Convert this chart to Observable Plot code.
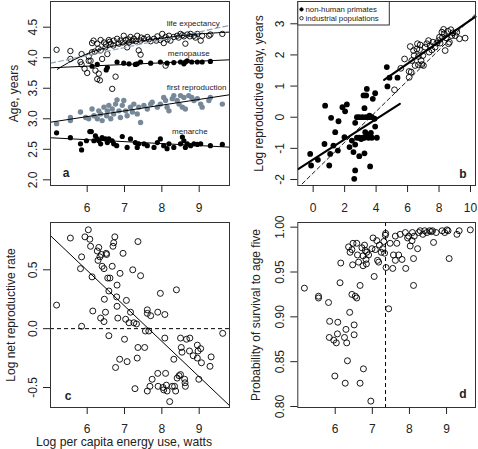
<!DOCTYPE html>
<html><head><meta charset="utf-8">
<script src="https://cdn.jsdelivr.net/npm/d3@7"></script>
<script src="https://cdn.jsdelivr.net/npm/@observablehq/plot@0.6"></script>
<style>
body{margin:0;background:#fff;}
#wrap{position:relative;width:478px;height:449px;overflow:hidden;}
</style></head><body><div id="wrap"></div>
<script>
// ---------- Panel a data: [log energy use, log age] ----------
const aLifeExp = [[5.18,4.13],[5.55,4.11],[5.55,3.98],[5.85,4.06],[5.82,3.93],[5.85,3.89],[5.93,3.82],[6.0,3.75],[6.04,3.95],[6.09,3.95],[6.13,4.24],[6.13,4.09],[6.22,3.79],[6.27,3.65],[6.31,3.74],[6.36,4.12],[6.34,3.63],[6.40,3.98],[6.36,4.29],[6.45,4.25],[6.49,4.17],[6.54,4.06],[6.58,4.29],[6.63,4.23],[6.71,4.28],[6.76,3.69],[6.67,3.49],[6.80,4.31],[6.85,4.23],[6.89,4.28],[6.98,4.36],[7.03,4.29],[7.07,4.17],[7.12,4.25],[7.16,4.34],[7.21,4.28],[7.25,4.31],[7.34,4.36],[7.38,4.12],[7.43,4.05],[7.43,4.28],[7.52,4.31],[7.61,4.34],[7.70,4.27],[7.79,4.31],[7.88,4.35],[7.96,4.29],[8.01,4.39],[8.05,4.24],[8.10,4.34],[8.19,4.36],[8.23,4.28],[8.32,4.34],[8.41,4.36],[8.50,4.39],[8.59,4.35],[8.63,4.23],[8.68,4.38],[8.77,4.39],[8.86,4.36],[8.95,4.39],[9.04,4.28],[9.08,4.36],[9.26,4.36],[9.30,4.38],[9.62,4.39],[6.27,4.23],[6.04,4.02],[8.10,3.87],[6.5,4.22],[6.6,4.26],[6.7,4.2],[6.95,4.25],[7.1,4.3],[7.3,4.27],[7.45,4.33],[7.65,4.3],[7.85,4.28],[8.15,4.3],[8.45,4.33],[8.55,4.37],[8.75,4.35],[8.9,4.33],[6.3,4.15],[6.2,4.1],[6.17,4.28]];
const aMenopause = [[6.13,3.86],[6.27,3.89],[6.54,3.84],[6.51,3.80],[6.80,3.93],[6.98,3.91],[7.12,3.90],[7.29,3.89],[7.34,3.90],[7.43,3.93],[7.70,3.91],[7.96,3.93],[8.14,3.91],[8.32,3.92],[8.50,3.93],[8.59,3.90],[8.63,3.93],[8.68,3.95],[8.80,3.93],[8.95,3.93],[9.08,3.93],[9.30,3.94]];
const aFirstRepro = [[5.18,2.92],[5.55,3.02],[5.55,2.97],[5.82,3.11],[5.96,3.02],[6.04,3.0],[6.13,3.16],[6.18,3.05],[6.27,3.0],[6.31,3.13],[6.36,3.08],[6.40,2.97],[6.45,3.19],[6.52,3.05],[6.54,3.13],[6.58,3.22],[6.63,3.0],[6.67,3.16],[6.71,3.08],[6.76,3.24],[6.80,3.31],[6.85,3.13],[6.89,3.02],[6.94,3.22],[6.98,3.30],[7.03,3.13],[7.07,3.05],[7.16,3.19],[7.21,3.11],[7.25,3.24],[7.34,3.08],[7.38,3.19],[7.43,2.94],[7.52,3.22],[7.61,3.16],[7.70,3.24],[7.74,3.27],[7.88,3.19],[7.96,3.24],[8.05,3.35],[8.10,3.30],[8.14,3.19],[8.19,3.13],[8.28,3.33],[8.32,3.38],[8.41,3.30],[8.46,3.24],[8.50,3.38],[8.55,3.19],[8.59,3.35],[8.63,3.16],[8.72,3.38],[8.80,3.35],[8.86,3.30],[8.95,3.33],[9.04,3.24],[9.08,3.19],[9.26,3.30],[9.30,3.35],[9.62,3.24]];
const aMenarche = [[5.18,2.77],[5.55,2.69],[5.85,2.49],[5.82,2.59],[5.98,2.64],[6.07,2.79],[6.11,2.79],[6.18,2.64],[6.22,2.72],[6.27,2.67],[6.31,2.64],[6.36,2.59],[6.40,2.69],[6.49,2.67],[6.54,2.61],[6.58,2.67],[6.67,2.64],[6.71,2.59],[6.79,2.56],[6.94,2.71],[7.07,2.53],[7.16,2.67],[7.29,2.61],[7.34,2.53],[7.38,2.59],[7.52,2.59],[7.61,2.56],[7.79,2.53],[7.88,2.61],[7.96,2.67],[8.05,2.56],[8.14,2.51],[8.19,2.59],[8.32,2.53],[8.50,2.59],[8.55,2.70],[8.59,2.64],[8.63,2.53],[8.68,2.59],[8.77,2.56],[8.86,2.59],[8.95,2.58],[9.04,2.59],[9.30,2.56],[9.62,2.58]];
// fitted lines
const aFitLifeExp = [[5.2,3.81],[5.5,3.92],[5.8,4.01],[6.1,4.09],[6.5,4.16],[7.0,4.23],[7.5,4.28],[8.0,4.32],[8.5,4.36],[9.0,4.39],[9.81,4.42]];
const aFitLifeExpDashed = [[5.02,3.911],[9.81,4.528]];
const aFitMenopause = [[5.02,3.835],[9.81,3.966]];
const aFitFirstRepro = [[5.02,2.944],[9.81,3.393]];
const aFitMenarche = [[5.02,2.689],[9.81,2.535]];
const aLabels = [{t:"life expectancy",x:8.84,y:4.56},{t:"menopause",x:8.72,y:4.07},{t:"first reproduction",x:8.93,y:3.51},{t:"menarche",x:8.75,y:2.80}];

// ---------- Panel b data ----------
const bPrimates = [[-0.19,-1.18],[-0.13,-1.55],[0.30,-1.37],[0.76,0.37],[0.72,-0.86],[1.02,-1.55],[1.08,-1.18],[1.14,-0.02],[1.29,-0.91],[1.40,-0.48],[1.57,-1.07],[1.61,-0.13],[1.86,0.32],[1.99,-0.64],[2.03,0.19],[2.14,0.41],[2.31,-0.96],[2.46,-0.75],[2.56,-1.12],[2.61,-1.98],[2.67,-1.71],[2.67,-0.88],[2.67,-0.18],[2.78,0.0],[2.78,-0.66],[2.93,0.0],[2.93,-1.25],[3.05,-0.70],[3.14,0.0],[3.20,0.70],[3.26,-0.66],[3.26,0.29],[3.26,-1.16],[3.31,-0.48],[3.35,0.0],[3.37,0.70],[3.41,0.91],[3.45,-0.56],[3.52,0.0],[3.52,-0.66],[3.58,0.05],[3.62,-1.58],[3.67,-0.50],[3.73,-0.66],[3.73,0.0],[3.79,0.59],[3.90,-0.05],[3.94,0.77],[3.94,-0.30],[4.05,-0.66],[2.93,-0.66],[3.16,-0.66],[4.68,1.61],[4.72,0.99],[4.85,1.27],[5.36,1.27]];
const bIndustrial = [[5.17,0.88],[5.57,1.57],[5.81,1.87],[6.10,1.47],[6.10,1.28],[6.17,2.27],[6.23,1.45],[6.27,1.82],[6.38,2.14],[6.42,1.98],[6.48,1.66],[6.59,2.19],[6.63,2.36],[6.69,1.95],[6.69,1.68],[6.76,2.17],[6.80,2.32],[6.86,1.82],[6.91,1.69],[6.97,1.98],[7.01,1.66],[7.12,2.25],[7.22,2.36],[7.33,2.46],[7.37,2.09],[7.44,2.30],[7.54,2.16],[7.61,2.41],[7.75,2.25],[7.97,2.46],[8.07,2.38],[8.18,2.73],[8.22,2.57],[8.29,2.82],[8.33,2.68],[8.39,2.14],[8.45,2.55],[8.56,2.76],[8.60,2.36],[8.66,2.41],[8.75,2.81],[8.81,2.62],[8.88,2.71],[9.03,2.62],[9.13,2.73],[9.30,2.52],[9.66,2.54],[8.03,2.57],[7.86,2.38]];
const bFitAll = [[-0.70,-2.14],[10.32,3.31]];
const bFitPrimates = [[-0.93,-1.66],[5.51,0.43]];
const bFitIndustrial = [[4.51,1.20],[10.32,3.23]];
const bLegend = ["non-human primates","industrial populations"];

// ---------- Panel c data ----------
const cPoints = [[5.18,0.20],[5.55,0.77],[5.82,0.51],[5.85,0.61],[5.85,0.02],[5.94,0.78],[6.03,0.84],[6.07,0.76],[6.09,0.70],[6.13,0.44],[6.15,0.15],[6.27,0.66],[6.31,0.69],[6.29,0.58],[6.34,0.61],[6.38,0.63],[6.36,0.09],[6.40,0.53],[6.45,0.51],[6.45,0.06],[6.46,0.25],[6.49,0.14],[6.51,0.64],[6.52,0.63],[6.55,0.43],[6.58,-0.06],[6.58,0.32],[6.61,0.43],[6.67,0.53],[6.69,0.70],[6.71,0.73],[6.74,0.78],[6.76,-0.33],[6.79,0.27],[6.80,0.37],[6.80,0.19],[6.82,0.09],[6.87,-0.26],[6.88,0.47],[6.96,0.64],[7.0,-0.09],[7.03,0.08],[7.05,0.24],[7.07,-0.28],[7.12,0.05],[7.16,0.14],[7.22,0.50],[7.25,0.05],[7.28,-0.51],[7.32,0.04],[7.34,-0.25],[7.36,-0.16],[7.36,0.74],[7.43,0.45],[7.54,-0.16],[7.56,-0.02],[7.61,-0.53],[7.61,0.16],[7.61,0.13],[7.65,-0.02],[7.68,-0.49],[7.70,0.11],[7.74,-0.43],[7.89,0.14],[7.89,-0.38],[7.90,-0.49],[7.96,0.30],[8.03,-0.50],[8.05,-0.52],[8.08,0.12],[8.08,-0.08],[8.10,-0.38],[8.12,-0.48],[8.14,-0.53],[8.21,-0.62],[8.28,-0.49],[8.32,-0.26],[8.34,-0.49],[8.37,-0.53],[8.39,0.33],[8.41,-0.42],[8.46,-0.40],[8.50,-0.08],[8.50,-0.39],[8.52,-0.16],[8.54,-0.20],[8.61,-0.43],[8.62,-0.46],[8.63,-0.49],[8.66,-0.09],[8.74,-0.19],[8.75,-0.08],[8.84,-0.23],[8.95,-0.14],[8.95,-0.25],[8.97,-0.19],[8.99,-0.43],[9.04,-0.17],[9.06,-0.29],[9.29,-0.32],[9.32,-0.24],[9.63,-0.04]];
const cFit = [[5.02,0.789],[9.80,-0.65]];
const cZero = [0];

// ---------- Panel d data ----------
const dPoints = [[5.17,0.932],[5.55,0.923],[5.55,0.921],[5.82,0.916],[5.85,0.895],[5.84,0.877],[5.96,0.874],[5.99,0.834],[6.03,0.871],[6.07,0.894],[6.06,0.881],[6.13,0.938],[6.15,0.960],[6.25,0.877],[6.27,0.826],[6.29,0.886],[6.31,0.871],[6.33,0.851],[6.36,0.978],[6.39,0.905],[6.40,0.972],[6.45,0.975],[6.48,0.982],[6.47,0.958],[6.45,0.925],[6.51,0.891],[6.51,0.880],[6.54,0.923],[6.58,0.982],[6.58,0.921],[6.60,0.969],[6.63,0.961],[6.67,0.935],[6.67,0.826],[6.72,0.977],[6.75,0.957],[6.75,0.968],[6.76,0.842],[6.79,0.980],[6.81,0.974],[6.83,0.964],[6.85,0.972],[6.84,0.959],[6.90,0.969],[6.96,0.806],[6.99,0.976],[7.02,0.988],[7.05,0.945],[7.08,0.975],[7.12,0.985],[7.14,0.963],[7.17,0.961],[7.19,0.980],[7.24,0.972],[7.28,0.976],[7.31,0.984],[7.33,0.971],[7.36,0.993],[7.37,0.955],[7.35,0.991],[7.44,0.909],[7.48,0.982],[7.55,0.954],[7.57,0.969],[7.62,0.990],[7.62,0.963],[7.66,0.982],[7.71,0.969],[7.75,0.992],[7.80,0.964],[7.89,0.994],[7.90,0.954],[7.95,0.988],[7.98,0.990],[8.02,0.979],[8.07,0.985],[8.08,0.994],[8.11,0.965],[8.11,0.935],[8.13,0.990],[8.22,0.976],[8.25,0.994],[8.29,0.996],[8.36,0.992],[8.41,0.996],[8.47,0.994],[8.54,0.996],[8.59,0.995],[8.62,0.996],[8.65,0.983],[8.72,0.994],[8.88,0.996],[8.95,0.994],[9.01,0.997],[9.04,0.996],[9.07,0.965],[9.28,0.992],[9.34,0.996],[9.64,0.997]];
const dThreshold = [7.356];

// ---------- tick values ----------
const aXTicks = [6,7,8,9], aYTicks = [2.0,2.5,3.0,3.5,4.0,4.5];
const bXTicks = [0,2,4,6,8,10], bYTicks = [-2,-1,0,1,2,3];
const cYTicks = [-0.5,0,0.5];
const dYTicks = [0.80,0.85,0.90,0.95,1.00];

const F = '"Liberation Sans", Arial, Helvetica, sans-serif';
const INK = "#222";
const wrap = document.getElementById("wrap");
const X = d => d[0], Y = d => d[1];

function panel({left, top, w, h, ml, mr, mt, mb, xd, yd, xt, yt, yf, xdy = 18, marks}) {
  const svg = Plot.plot({
    width: w, height: h, marginLeft: ml, marginRight: mr, marginTop: mt, marginBottom: mb,
    style: {fontFamily: F, fontSize: "12px", background: "none", overflow: "visible", color: INK},
    x: {domain: xd, label: null},
    y: {domain: yd, label: null},
    marks: [
      ...marks,
      Plot.frame({stroke: "#333", strokeWidth: 1}),
      // tick marks (labels drawn separately below)
      Plot.axisX({ticks: xt, tickSize: 7, label: null, tickFormat: () => ""}),
      Plot.axisY({ticks: yt, tickSize: 7, label: null, tickFormat: () => ""}),
      Plot.text(xt, {x: d => d, frameAnchor: "bottom", dy: xdy, textAnchor: "middle", lineAnchor: "top",
        text: d => String(d), fontSize: 12, fill: INK}),
      Plot.text(yt, {y: d => d, frameAnchor: "left", dx: -14, rotate: -90, textAnchor: "middle", lineAnchor: "bottom",
        text: yf, fontSize: 12, fill: INK})
    ]
  });
  svg.style.position = "absolute";
  svg.style.left = left + "px";
  svg.style.top = top + "px";
  svg.style.maxWidth = "none";
  wrap.appendChild(svg);
  return svg;
}

function yTitle(t, dx) {
  return Plot.text([t], {frameAnchor: "left", dx, rotate: -90, textAnchor: "middle", lineAnchor: "middle", fontSize: 12, fill: INK});
}
function tag(t, anchor, dx, dy) {
  return Plot.text([t], {frameAnchor: anchor, dx, dy, textAnchor: "middle", lineAnchor: "middle", fontSize: 12, fontWeight: "bold", fill: INK});
}

// Panel a
panel({left: 0, top: 0, w: 239, h: 222, ml: 50, mr: 10, mt: 1, mb: 37,
  xd: [5.017, 9.812], yd: [1.907, 4.921], xt: aXTicks, yt: aYTicks, yf: d => d.toFixed(1),
  marks: [
    Plot.dot(aLifeExp, {x: X, y: Y, r: 2.7, stroke: "#000", strokeWidth: 0.9, fill: "none"}),
    Plot.dot(aMenopause, {x: X, y: Y, r: 2.6, fill: "#000"}),
    Plot.dot(aFirstRepro, {x: X, y: Y, r: 2.7, fill: "#778899"}),
    Plot.dot(aMenarche, {x: X, y: Y, r: 2.6, fill: "#000"}),
    Plot.line(aFitLifeExpDashed, {x: X, y: Y, stroke: "#8fa3bd", strokeWidth: 1.2, strokeDasharray: "5,3"}),
    Plot.line(aFitLifeExp, {x: X, y: Y, stroke: "#000", strokeWidth: 1, curve: "natural"}),
    Plot.line(aFitMenopause, {x: X, y: Y, stroke: "#000", strokeWidth: 1}),
    Plot.line(aFitFirstRepro, {x: X, y: Y, stroke: "#000", strokeWidth: 1}),
    Plot.line(aFitMenarche, {x: X, y: Y, stroke: "#000", strokeWidth: 1}),
    Plot.text(aLabels, {x: "x", y: "y", text: "t", fontSize: 8, fill: INK}),
    yTitle("Age, years", -36),
    tag("a", "bottom-left", 15.5, -12)
  ]});

// Panel b
const svgB = panel({left: 239, top: 0, w: 239, h: 222, ml: 58.3, mr: 3, mt: 1, mb: 37,
  xd: [-0.977, 10.318], yd: [-2.193, 3.716], xt: bXTicks, yt: bYTicks, yf: d => String(d),
  marks: [
    Plot.dot(bPrimates, {x: X, y: Y, r: 2.9, fill: "#000"}),
    Plot.dot(bIndustrial, {x: X, y: Y, r: 2.9, stroke: "#000", strokeWidth: 0.9, fill: "none"}),
    Plot.line(bFitAll, {x: X, y: Y, stroke: "#000", strokeWidth: 0.9, strokeDasharray: "4,3"}),
    Plot.line(bFitPrimates, {x: X, y: Y, stroke: "#000", strokeWidth: 2.2}),
    Plot.line(bFitIndustrial, {x: X, y: Y, stroke: "#000", strokeWidth: 2.2}),
    yTitle("Log reproductive delay, years", -39),
    tag("b", "bottom-right", -12.5, -11.5)
  ]});
// legend box (b)
{
  const g = d3.select(svgB).append("g").attr("font-family", F).attr("font-size", 7.8)
    .attr("fill", INK).attr("text-anchor", "start");
  g.append("rect").attr("x", 58.8).attr("y", 1.5).attr("width", 91.5).attr("height", 23.5)
    .attr("fill", "white").attr("stroke", "#333").attr("stroke-width", 1);
  const rows = [{y: 9.4, filled: true}, {y: 18.2, filled: false}];
  rows.forEach((r, i) => {
    g.append("circle").attr("cx", 62.5).attr("cy", r.y).attr("r", 1.7)
      .attr("fill", r.filled ? "#000" : "none").attr("stroke", "#000").attr("stroke-width", 0.8);
    g.append("text").attr("x", 66.5).attr("y", r.y).attr("dy", "0.35em").attr("text-anchor", "start").text(bLegend[i]);
  });
}

// Panel c
panel({left: 0, top: 221, w: 239, h: 228, ml: 50, mr: 10, mt: 1, mb: 42, xdy: 16.5,
  xd: [5.017, 9.812], yd: [-0.670, 0.902], xt: aXTicks, yt: cYTicks, yf: d => d.toFixed(1),
  marks: [
    Plot.dot(cPoints, {x: X, y: Y, r: 3, stroke: "#000", strokeWidth: 0.9, fill: "none"}),
    Plot.ruleY(cZero, {stroke: "#000", strokeWidth: 1, strokeDasharray: "4,3"}),
    Plot.line(cFit, {x: X, y: Y, stroke: "#000", strokeWidth: 1}),
    yTitle("Log net reproductive rate", -39),
    tag("c", "bottom-left", 17.5, -11.5),
    Plot.text(["Log per capita energy use, watts"], {frameAnchor: "bottom", dx: -16, dy: 35, textAnchor: "middle", lineAnchor: "middle", fontSize: 12.2, fill: INK})
  ]});

// Panel d
panel({left: 239, top: 221, w: 239, h: 228, ml: 58.3, mr: 3, mt: 1, mb: 42, xdy: 16.5,
  xd: [4.992, 9.78], yd: [0.7989, 1.0052], xt: aXTicks, yt: dYTicks, yf: d => d.toFixed(2),
  marks: [
    Plot.dot(dPoints, {x: X, y: Y, r: 3, stroke: "#000", strokeWidth: 0.9, fill: "none"}),
    Plot.ruleX(dThreshold, {stroke: "#000", strokeWidth: 1, strokeDasharray: "4,3"}),
    yTitle("Probability of survival to age five", -42),
    tag("d", "bottom-right", -12.5, -13.5)
  ]});
</script>
</body></html>
